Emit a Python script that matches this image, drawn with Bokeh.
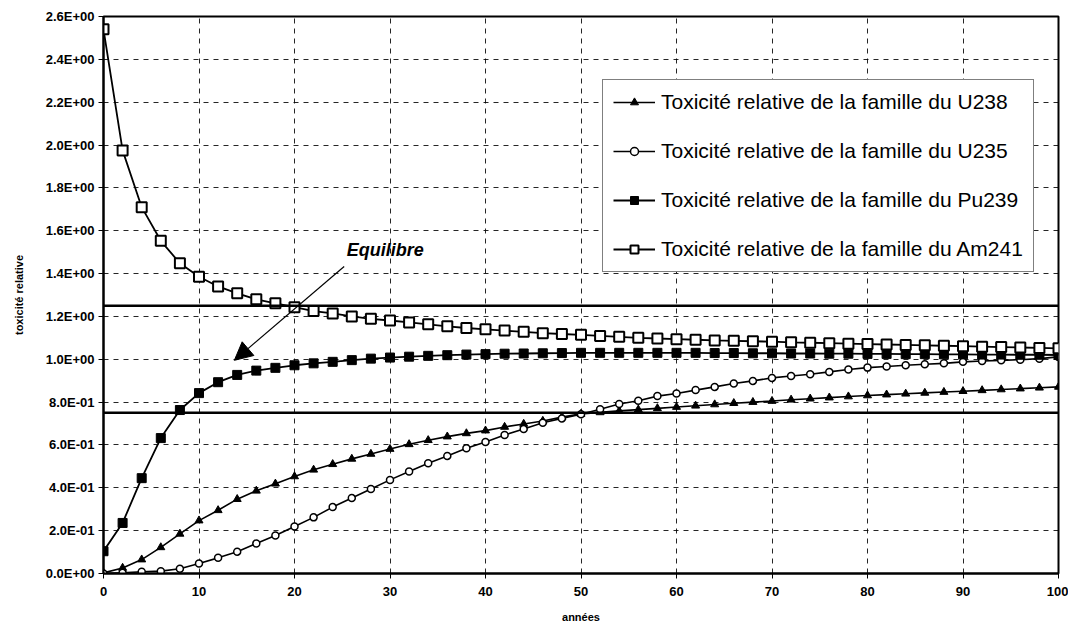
from bokeh.plotting import figure
from bokeh.models import (Range1d, FixedTicker, CustomJSTickFormatter, Span, Arrow,
                          NormalHead, Label)
from bokeh.embed import file_html
from bokeh.resources import INLINE

# ---------------- data ----------------
years = [0, 2, 4, 6, 8, 10, 12, 14, 16, 18, 20, 22, 24, 26, 28, 30, 32, 34, 36, 38,
         40, 42, 44, 46, 48, 50, 52, 54, 56, 58, 60, 62, 64, 66, 68, 70, 72, 74, 76, 78,
         80, 82, 84, 86, 88, 90, 92, 94, 96, 98, 100]

u238 = [0.003, 0.026, 0.065, 0.122, 0.185, 0.247, 0.295, 0.347, 0.386, 0.419,
        0.453, 0.484, 0.510, 0.535, 0.558, 0.581, 0.603, 0.622, 0.639, 0.654,
        0.667, 0.684, 0.698, 0.712, 0.730, 0.745, 0.752, 0.759, 0.765, 0.771,
        0.777, 0.783, 0.789, 0.795, 0.800, 0.805, 0.811, 0.816, 0.821, 0.826,
        0.831, 0.835, 0.839, 0.843, 0.847, 0.851, 0.855, 0.859, 0.863, 0.867, 0.871]

u235 = [0.000, 0.003, 0.008, 0.011, 0.022, 0.047, 0.073, 0.102, 0.140, 0.177,
        0.219, 0.262, 0.310, 0.352, 0.394, 0.437, 0.476, 0.515, 0.549, 0.585,
        0.614, 0.647, 0.674, 0.704, 0.724, 0.743, 0.767, 0.791, 0.806, 0.828,
        0.840, 0.856, 0.871, 0.887, 0.899, 0.913, 0.922, 0.930, 0.941, 0.952,
        0.961, 0.966, 0.972, 0.977, 0.981, 0.988, 0.992, 0.995, 0.998, 1.003, 1.011]

pu239 = [0.104, 0.236, 0.445, 0.632, 0.763, 0.842, 0.893, 0.927, 0.947, 0.960,
         0.972, 0.981, 0.988, 0.996, 1.003, 1.008, 1.012, 1.016, 1.019, 1.022,
         1.024, 1.026, 1.027, 1.028, 1.029, 1.030, 1.030, 1.030, 1.030, 1.030,
         1.030, 1.030, 1.029, 1.029, 1.028, 1.028, 1.027, 1.027, 1.026, 1.026,
         1.025, 1.025, 1.024, 1.024, 1.023, 1.023, 1.022, 1.022, 1.021, 1.021, 1.020]

am241 = [2.540, 1.975, 1.710, 1.553, 1.448, 1.385, 1.340, 1.308, 1.280, 1.261,
         1.243, 1.225, 1.214, 1.200, 1.189, 1.181, 1.172, 1.163, 1.154, 1.146,
         1.140, 1.134, 1.128, 1.122, 1.118, 1.114, 1.109, 1.105, 1.100, 1.097,
         1.094, 1.091, 1.088, 1.086, 1.084, 1.082, 1.079, 1.077, 1.075, 1.073,
         1.071, 1.069, 1.067, 1.065, 1.063, 1.061, 1.059, 1.057, 1.055, 1.053, 1.051]

series_labels = ["Toxicité relative de la famille du U238",
                 "Toxicité relative de la famille du U235",
                 "Toxicité relative de la famille du Pu239",
                 "Toxicité relative de la famille du Am241"]

x_ticks = [0, 10, 20, 30, 40, 50, 60, 70, 80, 90, 100]
y_ticks = [0.0, 0.2, 0.4, 0.6, 0.8, 1.0, 1.2, 1.4, 1.6, 1.8, 2.0, 2.2, 2.4, 2.6]
y_tick_labels = ["0.0E+00", "2.0E-01", "4.0E-01", "6.0E-01", "8.0E-01", "1.0E+00",
                 "1.2E+00", "1.4E+00", "1.6E+00", "1.8E+00", "2.0E+00", "2.2E+00",
                 "2.4E+00", "2.6E+00"]

equilibre_levels = [1.25, 0.75]
annotation_text = "Equilibre"

# ---------------- figure ----------------
FONT = "Liberation Sans"

p = figure(width=1068, height=625, x_range=Range1d(0, 100), y_range=Range1d(0, 2.6),
           output_backend="svg", toolbar_location=None,
           min_border_left=103, min_border_right=10, min_border_top=16, min_border_bottom=51)

p.background_fill_color = "white"
p.border_fill_color = "white"
p.outline_line_color = "black"
p.outline_line_width = 2

p.xaxis.ticker = FixedTicker(ticks=x_ticks)
p.yaxis.ticker = FixedTicker(ticks=y_ticks)
p.yaxis.formatter = CustomJSTickFormatter(
    args=dict(yvals=y_ticks, ylabs=y_tick_labels),
    code="const i = yvals.findIndex(t => Math.abs(t - tick) < 1e-9); return i >= 0 ? ylabs[i] : '';")

for ax in (p.xaxis, p.yaxis):
    ax.axis_line_color = "black"
    ax.axis_line_width = 2
    ax.major_tick_line_color = "black"
    ax.major_tick_line_width = 1
    ax.major_tick_out = 5
    ax.major_tick_in = 0
    ax.minor_tick_line_color = None
    ax.major_label_text_font = FONT
    ax.major_label_text_font_style = "bold"
    ax.major_label_text_font_size = "13px"
    ax.major_label_text_color = "black"
    ax.axis_label_text_font = FONT
    ax.axis_label_text_font_style = "bold"
    ax.axis_label_text_font_size = "11px"
    ax.axis_label_text_color = "black"

p.xaxis.axis_label = "années"
p.yaxis.axis_label = "toxicité relative"
p.xaxis.major_label_standoff = 8
p.yaxis.major_label_standoff = 4
p.xaxis.axis_label_standoff = 12
p.yaxis.axis_label_standoff = 18

p.xgrid.ticker = FixedTicker(ticks=x_ticks)
p.ygrid.ticker = FixedTicker(ticks=y_ticks)
for g in (p.xgrid, p.ygrid):
    g.grid_line_color = "black"
    g.grid_line_width = 1
    g.grid_line_dash = "5 5"
    g.grid_line_alpha = 0.85

for lvl in equilibre_levels:
    p.add_layout(Span(location=lvl, dimension="width", line_color="black", line_width=2.5))

# series
p.line(years, u238, line_color="black", line_width=1.6, legend_label=series_labels[0])
p.scatter(years, u238, marker="triangle", size=8, fill_color="black", line_color="black",
          legend_label=series_labels[0])

p.line(years, u235, line_color="black", line_width=1.6, legend_label=series_labels[1])
p.scatter(years, u235, marker="circle", size=7, fill_color="white", line_color="black",
          line_width=1.5, legend_label=series_labels[1])

p.line(years, pu239, line_color="black", line_width=1.8, legend_label=series_labels[2])
p.scatter(years, pu239, marker="square", size=9, fill_color="black", line_color="black",
          legend_label=series_labels[2])

p.line(years, am241, line_color="black", line_width=1.8, legend_label=series_labels[3])
p.scatter(years, am241, marker="square", size=10, fill_color="white", line_color="black",
          line_width=2, legend_label=series_labels[3])

# annotation
p.add_layout(Arrow(end=NormalHead(size=18, fill_color="black", line_color="black"),
                   x_start=25.2, y_start=1.433, x_end=13.7, y_end=0.995,
                   line_color="black", line_width=1.2))
p.add_layout(Label(x=29.5, y=1.51, text=annotation_text, text_align="center",
                   text_baseline="middle", text_font=FONT, text_font_style="bold italic",
                   text_font_size="18px", text_color="black"))

# legend
lg = p.legend[0]
lg.location = (499, 301)
lg.border_line_color = "black"
lg.border_line_width = 1.5
lg.background_fill_color = "white"
lg.background_fill_alpha = 1
lg.label_text_font = FONT
lg.label_text_font_size = "21px"
lg.label_text_color = "black"
lg.glyph_width = 42
lg.glyph_height = 20
lg.padding = 10
lg.spacing = 25
lg.label_standoff = 6
lg.margin = 0

open("out.html", "w").write(file_html(p, INLINE))
